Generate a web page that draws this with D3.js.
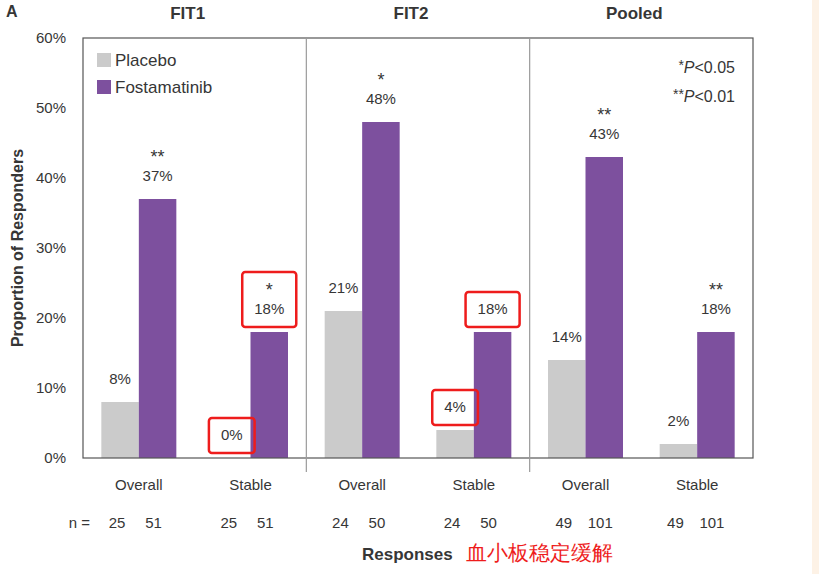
<!DOCTYPE html>
<html>
<head>
<meta charset="utf-8">
<script src="https://cdn.jsdelivr.net/npm/d3@7"></script>
<style>
  body { margin: 0; background: #fff; }
  text { font-family: "Liberation Sans", Arial, sans-serif; }
</style>
</head>
<body>
<div id="chart"></div>
<script>
const studies = ["FIT1", "FIT2", "Pooled"]
const groups = ["Overall", "Stable"]
const series = ["Placebo", "Fostamatinib"]
// values per study/group, in reading order FIT1 Overall, FIT1 Stable, FIT2 Overall ...
const placebo = [8, 0, 21, 4, 14, 2]
const fostamatinib = [37, 18, 48, 18, 43, 18]
const placeboSig = ["", "", "", "", "", ""]
const fostSig = ["**", "*", "*", "", "**", "**"]
const nPlacebo = [25, 25, 24, 24, 49, 49]
const nFost = [51, 51, 50, 50, 101, 101]
const yTicks = [0, 10, 20, 30, 40, 50, 60]
// labels outlined in red in the picture: [index, series]
const highlighted = [[1, "Placebo"], [1, "Fostamatinib"], [3, "Placebo"], [3, "Fostamatinib"]]

const W = 819, H = 574
const MARGIN = {TOP: 38, BOTTOM: 116, LEFT: 83, RIGHT: 66}
const COLORS = {Placebo: "#cbcbcb", Fostamatinib: "#7d509e"}
const TXT = "#363636"

const svg = d3.select("#chart").append("svg")
    .attr("width", W).attr("height", H)

// card edge
svg.append("rect").attr("x", 812).attr("y", 0).attr("width", 7).attr("height", H)
    .attr("fill", "#fdf2e6")

const y = d3.scaleLinear().domain([0, 60]).range([H - MARGIN.BOTTOM, MARGIN.TOP])
const xStudy = d3.scaleBand().domain(studies).range([MARGIN.LEFT, W - MARGIN.RIGHT])
const xGroup = d3.scalePoint().domain(groups).range([0, xStudy.bandwidth()]).padding(0.5)
const xSeries = d3.scaleBand().domain(series).range([-37.5, 37.5])

const data = []
studies.forEach((s, i) => groups.forEach((g, j) => {
    const k = i * groups.length + j
    data.push({study: s, group: g, idx: k, series: "Placebo", value: placebo[k], sig: placeboSig[k], n: nPlacebo[k]})
    data.push({study: s, group: g, idx: k, series: "Fostamatinib", value: fostamatinib[k], sig: fostSig[k], n: nFost[k]})
}))
const cx = d => xStudy(d.study) + xGroup(d.group)
const bx = d => cx(d) + xSeries(d.series) + xSeries.bandwidth() / 2

// bars
svg.selectAll("rect.bar").data(data).enter().append("rect")
    .attr("class", "bar")
    .attr("x", d => cx(d) + xSeries(d.series))
    .attr("y", d => y(d.value))
    .attr("width", xSeries.bandwidth())
    .attr("height", d => y(0) - y(d.value))
    .attr("fill", d => COLORS[d.series])

// frame + dividers
const [x0, x1] = xStudy.range()
svg.append("rect").attr("x", x0).attr("y", y(60)).attr("width", x1 - x0).attr("height", y(0) - y(60))
    .attr("fill", "none").attr("stroke", "#555").attr("stroke-width", 1.2)
studies.slice(1).forEach(s => {
    svg.append("line").attr("x1", xStudy(s)).attr("x2", xStudy(s))
        .attr("y1", y(60)).attr("y2", y(0) + 14)
        .attr("stroke", "#9a9a9a").attr("stroke-width", 1.2)
})

// y axis
const yAxis = svg.append("g").attr("transform", `translate(${x0},0)`)
    .call(d3.axisLeft(y).tickValues(yTicks).tickSize(0).tickPadding(17).tickFormat(d => d + "%"))
yAxis.select(".domain").remove()
yAxis.selectAll("text").attr("font-size", 15).attr("fill", TXT)
    .attr("font-family", "Liberation Sans, Arial, sans-serif")

svg.append("text")
    .attr("transform", `translate(23,${(y(0) + y(60)) / 2}) rotate(-90)`)
    .attr("text-anchor", "middle").attr("font-size", 16).attr("font-weight", "bold")
    .attr("fill", TXT).text("Proportion of Responders")

// study titles
svg.selectAll("text.study").data(studies).enter().append("text")
    .attr("x", d => xStudy(d) + xStudy.bandwidth() / 2 - 7).attr("y", 19)
    .attr("text-anchor", "middle").attr("font-size", 17).attr("font-weight", "bold")
    .attr("fill", TXT).text(d => d)
svg.append("text").attr("x", 6).attr("y", 17).attr("font-size", 16)
    .attr("font-weight", "bold").attr("fill", TXT).text("A")

// value labels
const lab = svg.selectAll("g.lab").data(data).enter().append("g").attr("class", "lab")
lab.append("text")
    .attr("x", bx)
    .attr("y", d => y(d.value) - 18)
    .attr("text-anchor", "middle").attr("font-size", 15).attr("fill", TXT)
    .text(d => d.value + "%")
lab.filter(d => d.sig).append("text")
    .attr("x", bx)
    .attr("y", d => y(d.value) - 36)
    .attr("text-anchor", "middle").attr("font-size", 18).attr("fill", TXT)
    .text(d => d.sig)

// red outlines
lab.filter(d => highlighted.some(h => h[0] === d.idx && h[1] === d.series)).each(function () {
    const b = this.getBBox()
    d3.select(this).append("rect")
        .attr("x", b.x - 12).attr("y", b.y - 8)
        .attr("width", b.width + 24).attr("height", b.height + 18)
        .attr("rx", 3).attr("fill", "none")
        .attr("stroke", "#ee1c1c").attr("stroke-width", 2.5)
})

// group labels and n
const gl = []
studies.forEach(s => groups.forEach(g => gl.push({study: s, group: g})))
svg.selectAll("text.grp").data(gl).enter().append("text")
    .attr("x", d => cx(d)).attr("y", y(0) + 32)
    .attr("text-anchor", "middle").attr("font-size", 15).attr("fill", TXT)
    .text(d => d.group)
svg.selectAll("text.n").data(data).enter().append("text")
    .attr("x", d => bx(d) + (d.series === "Placebo" ? -3 : -4))
    .attr("y", y(0) + 70)
    .attr("text-anchor", "middle").attr("font-size", 15).attr("fill", TXT)
    .text(d => d.n)
svg.append("text").attr("x", 90).attr("y", y(0) + 70).attr("text-anchor", "end")
    .attr("font-size", 15).attr("fill", TXT).text("n =")

// x title
svg.append("text").attr("x", 362).attr("y", 560).attr("font-size", 17)
    .attr("font-weight", "bold").attr("fill", TXT).text("Responses")
svg.append("text").attr("x", 466).attr("y", 560).attr("font-size", 21)
    .attr("fill", "#ee1c1c").attr("font-family", "Noto Sans CJK SC, sans-serif")
    .text("血小板稳定缓解")

// legend
const leg = svg.selectAll("g.leg").data(series).enter().append("g")
    .attr("transform", (d, i) => `translate(97,${53 + i * 27})`)
leg.append("rect").attr("width", 14).attr("height", 14).attr("fill", d => COLORS[d])
leg.append("text").attr("x", 18).attr("y", 13).attr("font-size", 17).attr("fill", TXT).text(d => d)

// p-value note
const pv = [["*", "P", "<0.05"], ["**", "P", "<0.01"]]
pv.forEach((p, i) => {
    const t = svg.append("text").attr("x", 735).attr("y", 73 + i * 29)
        .attr("text-anchor", "end").attr("font-size", 16).attr("fill", TXT)
    t.append("tspan").attr("font-size", 14).attr("dy", -3).text(p[0])
    t.append("tspan").attr("font-style", "italic").attr("dy", 3).text(p[1])
    t.append("tspan").text(p[2])
})
</script>
</body>
</html>
